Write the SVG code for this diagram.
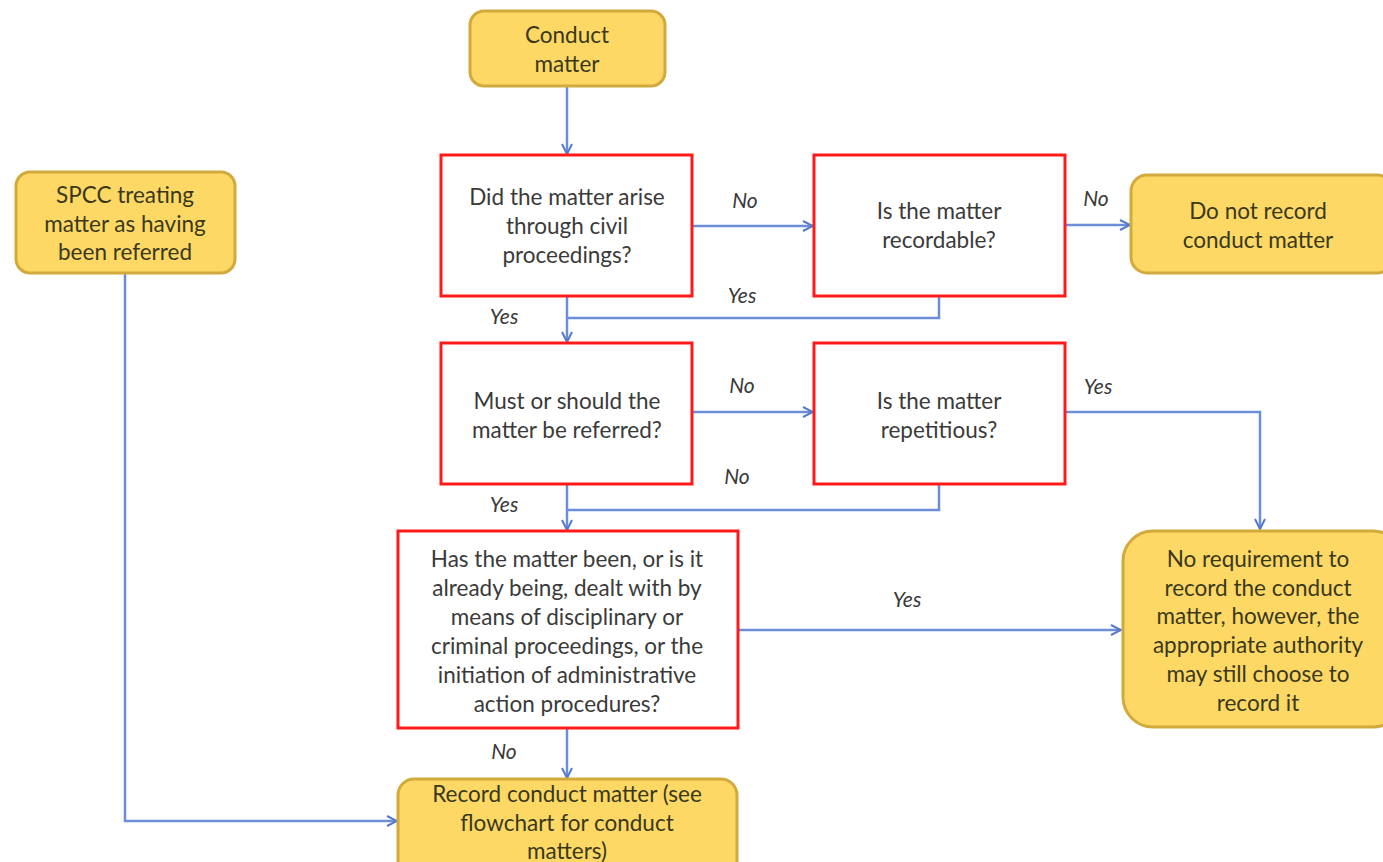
<svg xmlns="http://www.w3.org/2000/svg" width="1383" height="862" viewBox="0 0 1383 862">
  <style>
    .term { fill: #FDD865; stroke: #D2A93C; stroke-width: 3; }
    .dec { fill: #FFFFFF; stroke: #FF1A1A; stroke-width: 3; }
    .t { font-family: Lato, "Open Sans", "Liberation Sans", sans-serif; font-size: 22.5px; text-anchor: middle; fill: #3A3A3A; }
    .ty { font-family: Lato, "Open Sans", "Liberation Sans", sans-serif; font-size: 22.5px; text-anchor: middle; fill: #3A381C; }
    .lbl { font-family: Lato, "Open Sans", "Liberation Sans", sans-serif; font-size: 21px; font-style: italic; text-anchor: middle; fill: #3A3A3A; }
    .c { fill: none; stroke: #6C8ED8; stroke-width: 2.5; }
  </style>
  <defs>
    <marker id="arr" viewBox="0 0 12 12" refX="11" refY="6" markerWidth="12" markerHeight="12" markerUnits="userSpaceOnUse" orient="auto">
      <path d="M1,1 L11,6 L1,11" fill="none" stroke="#5579CC" stroke-width="2"/>
    </marker>
  </defs>
  <rect width="1383" height="862" fill="#FFFFFF"/>

  <!-- connector lines with their branch labels -->
  <g id="connectors">
    <path class="c" d="M567,86 V154" marker-end="url(#arr)"/>
    <path class="c" d="M692,226 H813" marker-end="url(#arr)"/>
    <path class="c" d="M1065,225 H1130" marker-end="url(#arr)"/>
    <path class="c" d="M939,296 V318 H567"/>
    <path class="c" d="M567,296 V342" marker-end="url(#arr)"/>
    <path class="c" d="M692,412 H813" marker-end="url(#arr)"/>
    <path class="c" d="M1065,412 H1260 V529" marker-end="url(#arr)"/>
    <path class="c" d="M939,484 V510 H567"/>
    <path class="c" d="M567,484 V530" marker-end="url(#arr)"/>
    <path class="c" d="M738,630 H1121" marker-end="url(#arr)"/>
    <path class="c" d="M567,728 V778" marker-end="url(#arr)"/>
    <path class="c" d="M125,273 V821 H397" marker-end="url(#arr)"/>
    <text class="lbl" x="745" y="208">No</text>
    <text class="lbl" x="1096" y="206">No</text>
    <text class="lbl" x="742" y="303">Yes</text>
    <text class="lbl" x="504" y="324">Yes</text>
    <text class="lbl" x="742" y="393">No</text>
    <text class="lbl" x="1098" y="394">Yes</text>
    <text class="lbl" x="737" y="484">No</text>
    <text class="lbl" x="504" y="512">Yes</text>
    <text class="lbl" x="907" y="607">Yes</text>
    <text class="lbl" x="504" y="759">No</text>
  </g>

  <g id="conduct-matter">
    <rect class="term" x="470" y="11" width="195" height="75" rx="14"/>
    <text class="ty" x="567" y="43">Conduct</text>
    <text class="ty" x="567" y="72">matter</text>
  </g>

  <g id="spcc">
    <rect class="term" x="16" y="172" width="219" height="101" rx="14"/>
    <text class="ty" x="125" y="203">SPCC treating</text>
    <text class="ty" x="125" y="232">matter as having</text>
    <text class="ty" x="125" y="260">been referred</text>
  </g>

  <g id="civil-proceedings">
    <rect class="dec" x="441" y="155" width="251" height="141"/>
    <text class="t" x="567" y="205">Did the matter arise</text>
    <text class="t" x="567" y="234">through civil</text>
    <text class="t" x="567" y="263">proceedings?</text>
  </g>

  <g id="recordable">
    <rect class="dec" x="814" y="155" width="251" height="141"/>
    <text class="t" x="939" y="219">Is the matter</text>
    <text class="t" x="939" y="248">recordable?</text>
  </g>

  <g id="do-not-record">
    <rect class="term" x="1131" y="175" width="262" height="98" rx="16"/>
    <text class="ty" x="1258" y="219">Do not record</text>
    <text class="ty" x="1258" y="248">conduct matter</text>
  </g>

  <g id="referred">
    <rect class="dec" x="441" y="343" width="251" height="141"/>
    <text class="t" x="567" y="409">Must or should the</text>
    <text class="t" x="567" y="438">matter be referred?</text>
  </g>

  <g id="repetitious">
    <rect class="dec" x="814" y="343" width="251" height="141"/>
    <text class="t" x="939" y="409">Is the matter</text>
    <text class="t" x="939" y="438">repetitious?</text>
  </g>

  <g id="dealt-with">
    <rect class="dec" x="398" y="531" width="340" height="197"/>
    <text class="t" x="567" y="567">Has the matter been, or is it</text>
    <text class="t" x="567" y="596">already being, dealt with by</text>
    <text class="t" x="567" y="625">means of disciplinary or</text>
    <text class="t" x="567" y="654">criminal proceedings, or the</text>
    <text class="t" x="567" y="683">initiation of administrative</text>
    <text class="t" x="567" y="712">action procedures?</text>
  </g>

  <g id="no-requirement">
    <rect class="term" x="1123" y="531" width="280" height="196" rx="30"/>
    <text class="ty" x="1258" y="567">No requirement to</text>
    <text class="ty" x="1258" y="596">record the conduct</text>
    <text class="ty" x="1258" y="624">matter, however, the</text>
    <text class="ty" x="1258" y="653">appropriate authority</text>
    <text class="ty" x="1258" y="682">may still choose to</text>
    <text class="ty" x="1258" y="711">record it</text>
  </g>

  <g id="record-conduct-matter">
    <rect class="term" x="398" y="779" width="339" height="100" rx="16"/>
    <text class="ty" x="567" y="802">Record conduct matter (see</text>
    <text class="ty" x="567" y="831">flowchart for conduct</text>
    <text class="ty" x="567" y="859">matters)</text>
  </g>
</svg>
